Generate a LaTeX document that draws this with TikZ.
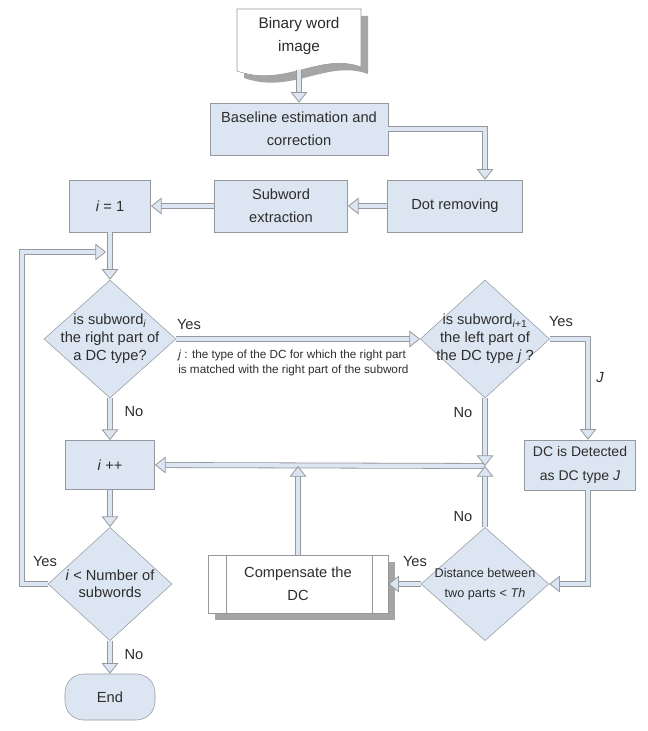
\documentclass[tikz,border=0pt]{standalone}
\usepackage{fontspec}
\setmainfont{Liberation Sans}
\usetikzlibrary{shapes.geometric, arrows.meta, shadows}
\definecolor{dcfill}{RGB}{220, 230, 242}
\definecolor{dcedge}{RGB}{150, 152, 158}
\definecolor{dctext}{RGB}{45, 45, 45}
\definecolor{dcshadow}{RGB}{165, 165, 165}
\tikzset{
  procbox/.style={rectangle, draw=dcedge, fill=dcfill, text=dctext, align=center,
                  minimum width=#1, minimum height=39pt, inner sep=1pt,
                  font=\fontsize{11}{17}\selectfont},
  procbox/.default=100pt,
  decision/.style={diamond, draw=dcedge, fill=dcfill, inner sep=0pt,
                   minimum width=#1, minimum height=88.5pt},
  decision/.default=98pt,
  dtext/.style={align=center, text=dctext, inner sep=0pt, font=\fontsize{11}{13.5}\selectfont},
  flow/.style={draw=dcedge, line width=0.6pt, double=dcfill, double distance=3.2pt,
               -{Triangle[length=8pt, width=12.5pt, line width=0.6pt, fill=dcfill]}},
  tag/.style={text=dctext, inner sep=0pt, font=\fontsize{11}{13}\selectfont},
}
\begin{document}
\begin{tikzpicture}[x=0.75pt, y=-0.75pt]
  \useasboundingbox (0,0) rectangle (648,731);

  % Input document
  \fill[dcshadow] (244,16) -- (368,16) -- (368,74) .. controls (327,59) and (292,95) .. (244,78) -- cycle;
  \draw[dcedge, fill=white] (237,9) -- (361,9) -- (361,67) .. controls (320,52) and (285,88) .. (237,71) -- cycle;
  \node[tag, align=center, font=\fontsize{11.5}{17}\selectfont] (doc) at (299,36) {Binary word\\image};
  \coordinate (docend) at (299,70);

  % Preprocessing
  \node[procbox=133.5pt] (base) at (299,129) {Baseline estimation and\\correction};
  \node[procbox=101pt] (dotrm) at (455,206) {Dot removing};
  \node[procbox=100pt] (subx) at (281,206) {Subword\\extraction};
  \node[procbox=61pt] (ione) at (110,206) {\textit{i} = 1};

  % Main loop
  \node[decision=99pt] (dia1) at (110,339) {};
  \node[dtext] (dia1txt) at (dia1) {is subword\textsubscript{\textit{i}}\\the right part of\\a DC type?};
  \node[procbox=67pt, minimum height=37pt] (iinc) at (110,465) {\textit{i} ++};
  \node[decision=93pt, minimum height=85pt] (dia3) at (110,584) {};
  \node[dtext, font=\fontsize{11}{12.5}\selectfont] (dia3txt) at (dia3) {\textit{i} < Number of\\subwords};
  \node[procbox=67.5pt, rounded corners=14pt, minimum height=34.5pt] (endn) at (110,697) {End};
  \coordinate (loopc) at (22,252);
  \coordinate (loopin) at (106,252);

  % Right branch
  \node[decision=97pt] (dia2) at (485,339) {};
  \node[dtext] (dia2txt) at (dia2) {is subword\textsubscript{\textit{i}+1}\\the left part of\\the DC type \textit{j} ?};
  \node[procbox=83pt, minimum height=37.5pt, font=\fontsize{10.5}{18}\selectfont] (dcdet) at (580,465) {DC is Detected\\as DC type \textit{J}};
  \node[decision=96pt, minimum height=85pt] (dist) at (485,584) {};
  \node[dtext, font=\fontsize{9.5}{15}\selectfont] (disttxt) at (dist) {Distance between\\two parts < \textit{Th}};
  \node[procbox=135pt, fill=white, minimum height=43.5pt,
        general shadow={fill=dcshadow, shadow xshift=5pt, shadow yshift=-5pt}] (comp) at (298,584) {Compensate the\\DC};
  \draw[dcedge] ([xshift=14pt]comp.north west) -- ([xshift=14pt]comp.south west);
  \draw[dcedge] ([xshift=-12pt]comp.north east) -- ([xshift=-12pt]comp.south east);
  \coordinate (jn) at (485,466);

  % Connectors
  \draw[flow] (docend) -- (base.north);
  \draw[flow] (base.east) -| ([xshift=22.5pt]dotrm.north);
  \draw[flow] (dotrm.west) -- (subx.east);
  \draw[flow] (subx.west) -- (ione.east);
  \draw[flow] (ione.south) -- (dia1.north);
  \draw[flow] (dia3.west) -| (loopc) -- (loopin);
  \draw[flow] (dia1.east) -- (dia2.west);
  \draw[flow] (dia1.south) -- (iinc.north);
  \draw[flow] (iinc.south) -- (dia3.north);
  \draw[flow] (dia3.south) -- (endn.north);
  \draw[flow] (dia2.east) -| ([xshift=6pt]dcdet.north);
  \draw[flow] ([xshift=6pt]dcdet.south) |- (dist.east);
  \draw[flow] (dist.west) -- (comp.east);
  \draw[flow] (jn) -- (iinc.east);
  \draw[flow] (dia2.south) -- (jn);
  \draw[flow] (dist.north) -- (jn);
  \draw[flow] (comp.north) -- (comp.north |- jn);

  % Labels
  \node[tag] (yes1) at (189,325) {Yes};
  \node[tag, anchor=west, align=left, font=\fontsize{8.8}{11.5}\selectfont] (note) at (178,363)
       {\textit{j} : the type of the DC for which the right part\\is matched with the right part of the subword};
  \node[tag] (no1) at (134,412) {No};
  \node[tag] (yes2) at (561,322) {Yes};
  \node[tag] (jlab) at (600,378) {\textit{J}};
  \node[tag] (no2) at (463,413) {No};
  \node[tag] (no3) at (463,517) {No};
  \node[tag] (yes3) at (415,562) {Yes};
  \node[tag] (yes4) at (45,562) {Yes};
  \node[tag] (no4) at (134,655) {No};
\end{tikzpicture}
\end{document}
